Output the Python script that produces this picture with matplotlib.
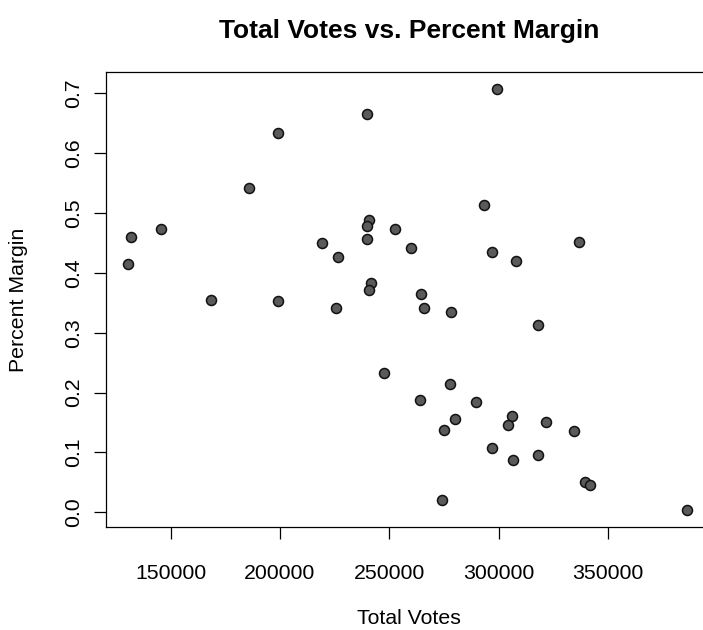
import matplotlib
matplotlib.use("Agg")
import matplotlib.pyplot as plt
import numpy as np

plt.rcParams['font.family'] = ['Liberation Sans', 'DejaVu Sans']

# Total votes cast and winning percent margin for each contest
total_votes = [240000, 199000, 186000, 131900, 145700, 130700, 240600, 240000,
               252500, 240000, 219100, 226600, 241400, 240800, 168400, 199000,
               225400, 299100, 293400, 260000, 296700, 307800, 336800, 264400,
               265800, 278300, 318000, 247500, 277600, 263800, 289500, 280200,
               275200, 306000, 304100, 321700, 334300, 296700, 306600, 318000,
               339300, 341800, 274000, 385900]
percent_margin = [0.666, 0.634, 0.542, 0.460, 0.474, 0.415, 0.489, 0.479,
                  0.473, 0.456, 0.450, 0.426, 0.383, 0.371, 0.355, 0.353,
                  0.341, 0.707, 0.514, 0.442, 0.435, 0.419, 0.451, 0.364,
                  0.341, 0.334, 0.313, 0.233, 0.214, 0.188, 0.184, 0.156,
                  0.138, 0.161, 0.145, 0.150, 0.136, 0.108, 0.087, 0.096,
                  0.050, 0.046, 0.020, 0.004]

x_ticks = [150000, 200000, 250000, 300000, 350000]
y_ticks = [0.0, 0.1, 0.2, 0.3, 0.4, 0.5, 0.6, 0.7]

W, H = 703, 630
fig = plt.figure(figsize=(W / 100, H / 100), dpi=100)
ax = fig.add_axes([106 / W, (H - 526.7) / H, 603 / W, 454.4 / H])

ax.scatter(total_votes, percent_margin, s=(7.2) ** 2, marker='o',
           facecolor='#5a5a5a', edgecolor='#111111', linewidths=1.1, zorder=3)

# R-style axis ranges: data range padded by 4% each side
def padded(v):
    lo, hi = min(v), max(v)
    d = (hi - lo) * 0.04
    return lo - d, hi + d

ax.set_xlim(*padded(total_votes))
ax.set_ylim(*padded(percent_margin))

ax.set_xticks(x_ticks)
ax.set_xticklabels([str(t) for t in x_ticks])
ax.set_yticks(y_ticks)
ax.set_yticklabels([f"{t:.1f}" for t in y_ticks])

fs = 15.3
ax.tick_params(axis='both', direction='out', length=8.6, width=0.9,
               color='black', labelsize=fs)
ax.tick_params(axis='x', pad=18)
ax.tick_params(axis='y', pad=8)
for lab in ax.get_yticklabels():
    lab.set_rotation(90)
    lab.set_va('center')
    lab.set_ha('right')

for sp in ax.spines.values():
    sp.set_linewidth(0.9)
    sp.set_color('black')

fig.text(409 / W, 1 - 31 / H, "Total Votes vs. Percent Margin",
         ha='center', va='center', fontsize=19, fontweight='bold')
fig.text(409 / W, 1 - 618 / H, "Total Votes", ha='center', va='center',
         fontsize=fs)
fig.text(19 / W, 1 - 300 / H, "Percent Margin", ha='center', va='center',
         rotation=90, fontsize=fs)

fig.savefig("out.png", dpi=100)
